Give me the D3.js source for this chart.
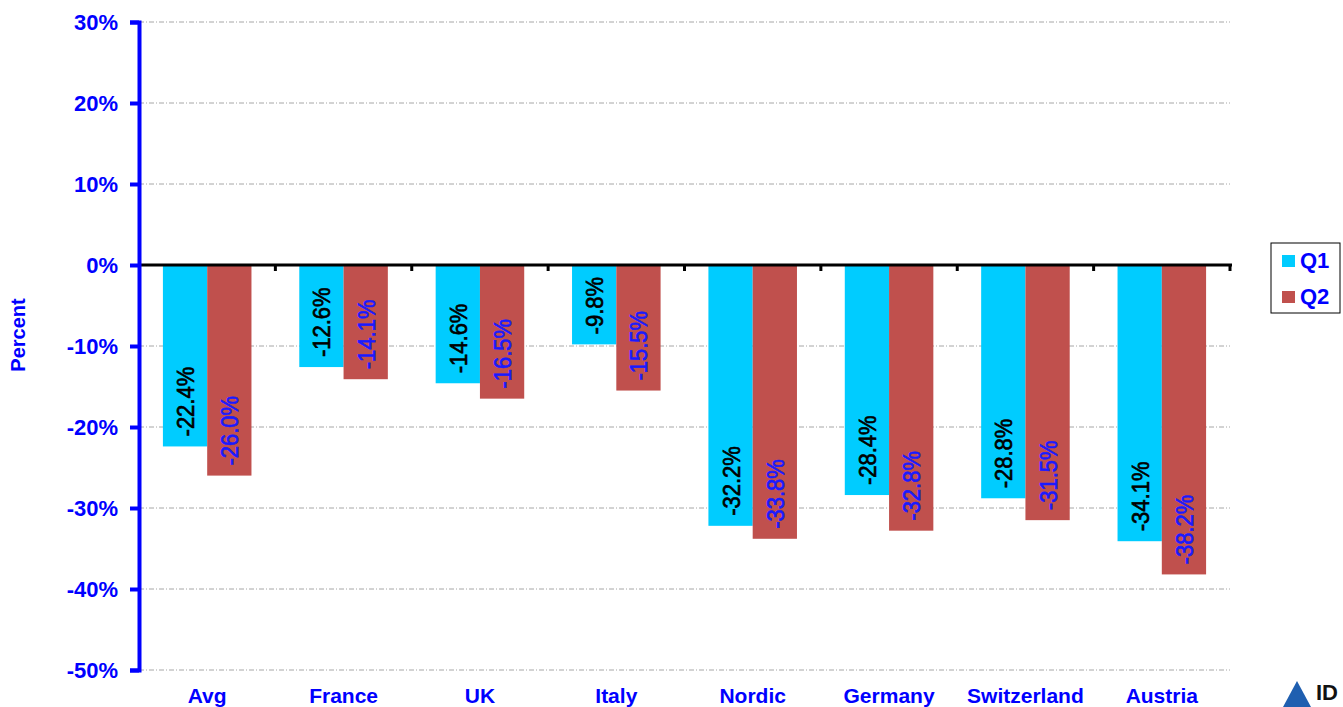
<!DOCTYPE html>
<html>
<head>
<meta charset="utf-8">
<script src="https://cdn.jsdelivr.net/npm/d3@7"></script>
<style>
  html, body { margin: 0; padding: 0; background: #fff; }
  #box { width: 1343px; height: 707px; overflow: hidden; }
  text { font-family: Arial, "Liberation Sans", sans-serif; }
</style>
</head>
<body>
<div id="box"></div>
<script>
// chart data
const categories = ['Avg', 'France', 'UK', 'Italy', 'Nordic', 'Germany', 'Switzerland', 'Austria'];
const seriesNames = ['Q1', 'Q2'];
const q1 = [-22.4, -12.6, -14.6, -9.8, -32.2, -28.4, -28.8, -34.1];
const q2 = [-26.0, -14.1, -16.5, -15.5, -33.8, -32.8, -31.5, -38.2];
const yTicks = [30, 20, 10, 0, -10, -20, -30, -40, -50];

const width = 1343;
const height = 707;
const padLeft = 139;
const padRight = 113;
const padTop = 22;
const padBottom = 37;
const innerWidth = width - padLeft - padRight;
const innerHeight = height - padTop - padBottom;

const colors = { Q1: '#00ccff', Q2: '#c0504d' };
const labelColors = { Q1: '#000000', Q2: '#1a1aff' };
const blue = '#0000ff';

const svg = d3.select('#box').append('svg')
  .attr('width', width)
  .attr('height', height);

const pad = svg.append('g')
  .attr('transform', `translate(${padLeft}, ${padTop})`);

const x = d3.scaleBand().domain(categories).range([0, innerWidth]).paddingInner(0).paddingOuter(0);
const xs = d3.scaleBand().domain(seriesNames).range([0, x.bandwidth()]).paddingInner(0).paddingOuter(0.54);
const y = d3.scaleLinear().domain([-50, 30]).range([innerHeight, 0]);

// gridlines
pad.selectAll('.grid').data(yTicks.filter(d => d !== 0))
  .join('line')
  .attr('class', 'grid')
  .attr('x1', 0)
  .attr('x2', innerWidth)
  .attr('y1', d => y(d))
  .attr('y2', d => y(d))
  .style('stroke', '#a6a6a6')
  .style('stroke-width', 1)
  .style('stroke-dasharray', '5,2,1,2');

// bars
const rows = categories.map((c, i) => ({ cat: c, vals: [{ s: 'Q1', v: q1[i] }, { s: 'Q2', v: q2[i] }] }));

const groups = pad.selectAll('.cat').data(rows)
  .join('g')
  .attr('class', 'cat')
  .attr('transform', d => `translate(${x(d.cat)}, 0)`);

groups.selectAll('rect').data(d => d.vals)
  .join('rect')
  .attr('x', d => xs(d.s))
  .attr('width', xs.bandwidth())
  .attr('y', d => y(Math.max(0, d.v)))
  .attr('height', d => Math.abs(y(d.v) - y(0)))
  .style('fill', d => colors[d.s]);

groups.selectAll('.lab').data(d => d.vals)
  .join('text')
  .attr('class', 'lab')
  .attr('transform', d => `translate(${xs(d.s) + xs.bandwidth() / 2 + 9}, ${y(d.v) - 10}) rotate(-90) scale(1, 1.12)`)
  .attr('text-anchor', 'start')
  .style('font-size', '22px')
  .style('fill', d => labelColors[d.s])
  .style('stroke', d => labelColors[d.s])
  .style('stroke-width', 0.6)
  .text(d => d.v.toFixed(1) + '%');

// zero line with ticks at band edges
pad.append('line')
  .attr('x1', 0).attr('x2', innerWidth + 2)
  .attr('y1', y(0)).attr('y2', y(0))
  .style('stroke', '#000').style('stroke-width', 3);

const edges = categories.map(c => x(c) + x.bandwidth());
pad.selectAll('.xtick').data(edges)
  .join('line')
  .attr('class', 'xtick')
  .attr('x1', d => d).attr('x2', d => d)
  .attr('y1', y(0)).attr('y2', y(0) + 6)
  .style('stroke', '#000').style('stroke-width', 3);

// y axis
const yAxis = pad.append('g')
  .call(d3.axisLeft(y).tickValues(yTicks).tickSize(9).tickPadding(12).tickFormat(d => d + '%'));
yAxis.select('.domain').style('stroke', blue).style('stroke-width', 4);
yAxis.selectAll('.tick line').style('stroke', blue).style('stroke-width', 4);
yAxis.selectAll('.tick text')
  .style('fill', blue)
  .style('font-size', '22px')
  .style('font-weight', 'bold')
  .style('font-family', 'Arial, "Liberation Sans", sans-serif');

// category labels
pad.selectAll('.xlab').data(categories)
  .join('text')
  .attr('class', 'xlab')
  .attr('x', d => x(d) + x.bandwidth() / 2)
  .attr('y', innerHeight + 33)
  .attr('text-anchor', 'middle')
  .style('fill', blue)
  .style('font-size', '21px')
  .style('font-weight', 'bold')
  .text(d => d);

// y title
svg.append('text')
  .attr('transform', `translate(25, 335) rotate(-90)`)
  .attr('text-anchor', 'middle')
  .style('fill', blue)
  .style('font-size', '20px')
  .style('font-weight', 'bold')
  .text('Percent');

// legend
const legend = svg.append('g').attr('transform', 'translate(1271, 243)');
legend.append('rect')
  .attr('width', 69).attr('height', 70)
  .style('fill', '#fff').style('stroke', '#000').style('stroke-width', 1);
legend.selectAll('.leg').data(seriesNames)
  .join('g')
  .attr('class', 'leg')
  .attr('transform', (d, i) => `translate(11, ${12 + i * 36})`)
  .call(g => g.append('rect')
    .attr('width', 13).attr('height', 12)
    .style('fill', d => colors[d]))
  .call(g => g.append('text')
    .attr('x', 18).attr('y', 13)
    .style('fill', blue)
    .style('font-size', '22px')
    .style('font-weight', 'bold')
    .text(d => d));

// logo fragment bottom right
svg.append('path')
  .attr('d', 'M1283,707 L1297,681 L1311,707 Z')
  .style('fill', '#1f5fb0');
svg.append('text')
  .attr('x', 1316).attr('y', 700)
  .style('fill', '#111')
  .style('font-size', '22px')
  .style('font-weight', 'bold')
  .text('ID');
</script>
</body>
</html>
